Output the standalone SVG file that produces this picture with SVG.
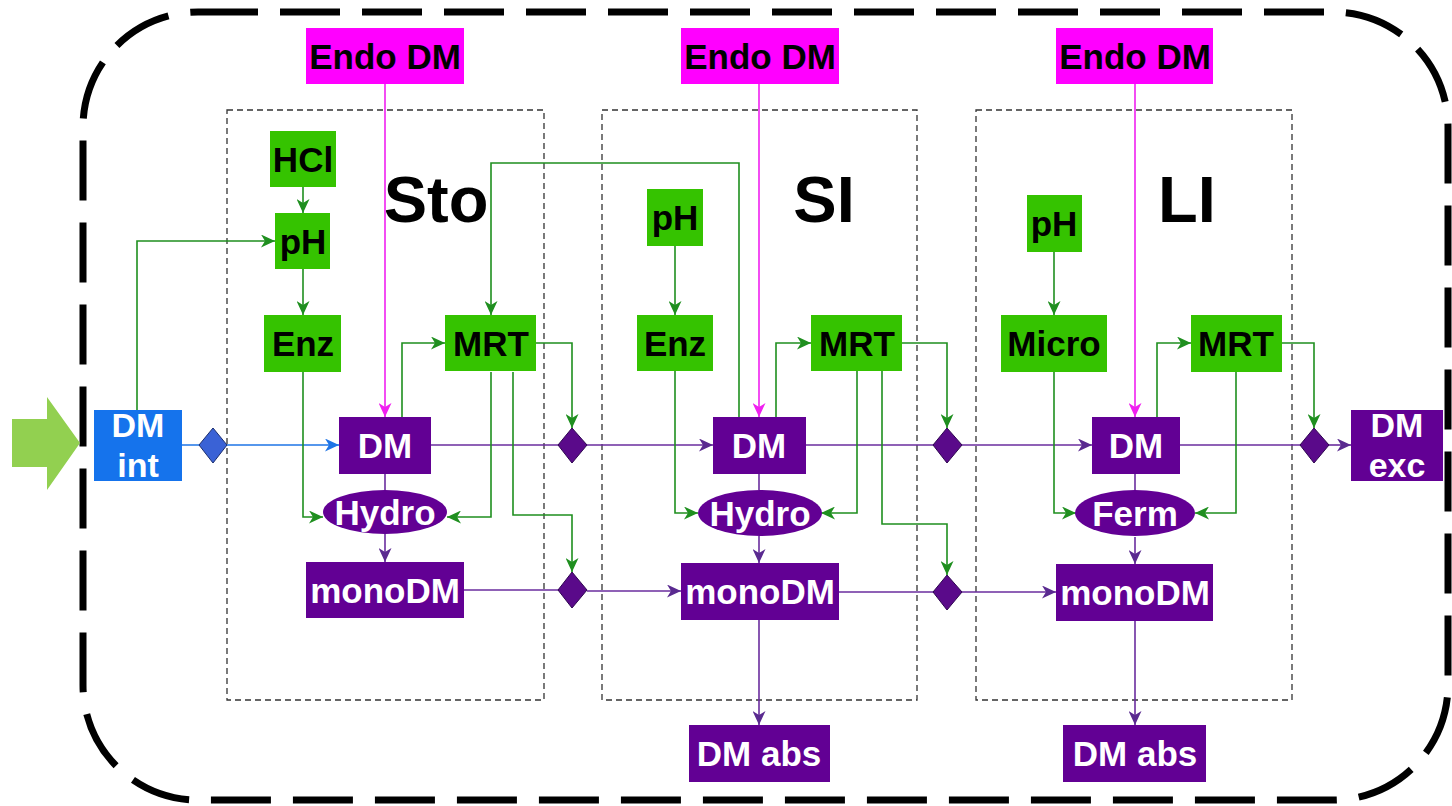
<svg xmlns="http://www.w3.org/2000/svg" width="1452" height="806" viewBox="0 0 1452 806">
<style>
  text{font-family:"Liberation Sans",Arial,sans-serif;font-weight:bold;text-anchor:middle;dominant-baseline:central}
  .g rect{fill:#35C300}
  .g text{fill:#000;font-size:35px}
  .p rect,.p ellipse{fill:#620094}
  .p text{fill:#fff;font-size:35px}
  .e rect{fill:#FF00FF}
  .e text{fill:#000;font-size:35px}
  .cg{fill:none;stroke:#1F8F1F;stroke-width:1.6}
  .cp{fill:none;stroke:#6A2C9E;stroke-width:1.6}
  .cm{fill:none;stroke:#F020F0;stroke-width:1.6}
  .cb{fill:none;stroke:#1E74E6;stroke-width:1.6}
  .zone{fill:none;stroke:#333;stroke-width:1.3;stroke-dasharray:6 4}
  .dia{fill:#5A0A8A;stroke:#2E0650;stroke-width:1}
</style>
<defs>
  <marker id="ag" markerUnits="userSpaceOnUse" markerWidth="15" markerHeight="13" refX="14" refY="6.5" orient="auto"><path d="M0,0 L14,6.5 L0,13 L4,6.5 z" fill="#1F8F1F"/></marker>
  <marker id="ap" markerUnits="userSpaceOnUse" markerWidth="15" markerHeight="13" refX="14" refY="6.5" orient="auto"><path d="M0,0 L14,6.5 L0,13 L4,6.5 z" fill="#5A2A90"/></marker>
  <marker id="am" markerUnits="userSpaceOnUse" markerWidth="15" markerHeight="13" refX="14" refY="6.5" orient="auto"><path d="M0,0 L14,6.5 L0,13 L4,6.5 z" fill="#F020F0"/></marker>
  <marker id="ab" markerUnits="userSpaceOnUse" markerWidth="15" markerHeight="13" refX="14" refY="6.5" orient="auto"><path d="M0,0 L14,6.5 L0,13 L4,6.5 z" fill="#1E74E6"/></marker>
</defs>
<rect width="1452" height="806" fill="#fff"/>
<rect x="83" y="12" width="1365" height="788" rx="115" ry="115" fill="none" stroke="#000" stroke-width="7" stroke-dasharray="60 22"/>
<polygon points="12,419 47,419 47,397 80,443 47,490 47,467 12,467" fill="#92D050"/>

<g id="zones">
  <rect class="zone" x="227" y="110" width="317" height="590"/>
  <rect class="zone" x="602" y="110" width="315" height="590"/>
  <rect class="zone" x="976" y="110" width="316" height="590"/>
</g>
<g id="labels" font-family="Liberation Sans, Arial, sans-serif" font-weight="bold" font-size="65" fill="#000">
  <text x="436" y="222" style="text-anchor:middle;dominant-baseline:alphabetic">Sto</text>
  <text x="824" y="222" style="text-anchor:middle;dominant-baseline:alphabetic">SI</text>
  <text x="1187" y="222" style="text-anchor:middle;dominant-baseline:alphabetic">LI</text>
</g>

<g id="connectors">
  <path class="cm" d="M385,84 V417" marker-end="url(#am)"/>
  <path class="cm" d="M759,84 V417" marker-end="url(#am)"/>
  <path class="cm" d="M1135,84 V417" marker-end="url(#am)"/>
  <path class="cb" d="M182,445 H339" marker-end="url(#ab)"/>
  <path class="cp" d="M431,445 H572"/>
  <path class="cp" d="M587,445 H713" marker-end="url(#ap)"/>
  <path class="cp" d="M806,445 H947"/>
  <path class="cp" d="M962,445 H1092" marker-end="url(#ap)"/>
  <path class="cp" d="M1180,445 H1314"/>
  <path class="cp" d="M1329,445 H1351" marker-end="url(#ap)"/>
  <path class="cp" d="M464,590 H572"/>
  <path class="cp" d="M587,591 H681" marker-end="url(#ap)"/>
  <path class="cp" d="M839,592 H947"/>
  <path class="cp" d="M962,592 H1056" marker-end="url(#ap)"/>
  <path class="cp" d="M385,474 V490"/>
  <path class="cp" d="M385,534 V562" marker-end="url(#ap)"/>
  <path class="cp" d="M759,474 V490"/>
  <path class="cp" d="M759,536 V563" marker-end="url(#ap)"/>
  <path class="cp" d="M759,620 V725" marker-end="url(#ap)"/>
  <path class="cp" d="M1135,474 V490"/>
  <path class="cp" d="M1135,537 V564" marker-end="url(#ap)"/>
  <path class="cp" d="M1135,621 V725" marker-end="url(#ap)"/>
  <path class="cg" d="M137,410 V241 H275" marker-end="url(#ag)"/>
  <path class="cg" d="M303,187 V213" marker-end="url(#ag)"/>
  <path class="cg" d="M303,269 V315" marker-end="url(#ag)"/>
  <path class="cg" d="M303,372 V517 H323" marker-end="url(#ag)"/>
  <path class="cg" d="M491,372 V517 H447" marker-end="url(#ag)"/>
  <path class="cg" d="M513,372 V515 H572 V572" marker-end="url(#ag)"/>
  <path class="cg" d="M536,343 H572 V428" marker-end="url(#ag)"/>
  <path class="cg" d="M402,417 V343 H445" marker-end="url(#ag)"/>
  <path class="cg" d="M739,417 V163 H491 V315" marker-end="url(#ag)"/>
  <path class="cg" d="M675,246 V315" marker-end="url(#ag)"/>
  <path class="cg" d="M675,371 V513 H698" marker-end="url(#ag)"/>
  <path class="cg" d="M776,417 V343 H811" marker-end="url(#ag)"/>
  <path class="cg" d="M857,371 V513 H821" marker-end="url(#ag)"/>
  <path class="cg" d="M882,371 V524 H947 V575" marker-end="url(#ag)"/>
  <path class="cg" d="M902,343 H947 V428" marker-end="url(#ag)"/>
  <path class="cg" d="M1054,252 V315" marker-end="url(#ag)"/>
  <path class="cg" d="M1054,372 V513 H1076" marker-end="url(#ag)"/>
  <path class="cg" d="M1157,417 V343 H1191" marker-end="url(#ag)"/>
  <path class="cg" d="M1236,372 V513 H1195" marker-end="url(#ag)"/>
  <path class="cg" d="M1282,343 H1314 V428" marker-end="url(#ag)"/>
</g>

<g id="diamonds">
  <polygon points="213,428 227,445 213,463 199,445" fill="#3A62D6" stroke="#1B2E6E" stroke-width="1"/>
  <polygon class="dia" points="572,428 587,445 572,463 558,445"/>
  <polygon class="dia" points="572,572 587,590 572,608 558,590"/>
  <polygon class="dia" points="947,428 962,445 947,463 933,445"/>
  <polygon class="dia" points="947,575 962,592 947,610 933,592"/>
  <polygon class="dia" points="1314,428 1329,445 1314,463 1300,445"/>
</g>

<g id="dm-int"><rect x="94" y="410" width="88" height="71" fill="#1573EC"/><text x="138" y="425" fill="#fff" font-size="34">DM</text><text x="138" y="465" fill="#fff" font-size="34">int</text></g>
<g id="dm-exc" class="p"><rect x="1351" y="410" width="92" height="71"/><text x="1397" y="425" style="font-size:34px">DM</text><text x="1397" y="465" style="font-size:34px">exc</text></g>

<g id="endo-sto" class="e"><rect x="306" y="28" width="158" height="56"/><text x="385" y="56">Endo DM</text></g>
<g id="endo-si" class="e"><rect x="681" y="28" width="158" height="56"/><text x="760" y="56">Endo DM</text></g>
<g id="endo-li" class="e"><rect x="1056" y="28" width="157" height="56"/><text x="1135" y="56">Endo DM</text></g>

<g id="hcl" class="g"><rect x="270" y="131" width="66" height="56"/><text x="303" y="159">HCl</text></g>
<g id="ph-sto" class="g"><rect x="275" y="213" width="55" height="56"/><text x="303" y="241">pH</text></g>
<g id="enz-sto" class="g"><rect x="264" y="315" width="77" height="57"/><text x="303" y="343">Enz</text></g>
<g id="mrt-sto" class="g"><rect x="445" y="315" width="91" height="56"/><text x="491" y="343">MRT</text></g>
<g id="dm-sto" class="p"><rect x="339" y="417" width="92" height="57"/><text x="385" y="445">DM</text></g>
<g id="hydro-sto" class="p"><ellipse cx="385" cy="512" rx="62" ry="22"/><text x="385" y="512">Hydro</text></g>
<g id="mono-sto" class="p"><rect x="306" y="562" width="158" height="56"/><text x="385" y="590">monoDM</text></g>

<g id="ph-si" class="g"><rect x="647" y="189" width="56" height="57"/><text x="675" y="217">pH</text></g>
<g id="enz-si" class="g"><rect x="637" y="315" width="76" height="56"/><text x="675" y="343">Enz</text></g>
<g id="mrt-si" class="g"><rect x="811" y="315" width="91" height="56"/><text x="857" y="343">MRT</text></g>
<g id="dm-si" class="p"><rect x="713" y="417" width="93" height="57"/><text x="759" y="445">DM</text></g>
<g id="hydro-si" class="p"><ellipse cx="760" cy="513" rx="62" ry="23"/><text x="760" y="513">Hydro</text></g>
<g id="mono-si" class="p"><rect x="681" y="563" width="158" height="57"/><text x="760" y="591">monoDM</text></g>
<g id="abs-si" class="p"><rect x="689" y="725" width="141" height="57"/><text x="759" y="753">DM abs</text></g>

<g id="ph-li" class="g"><rect x="1027" y="195" width="55" height="57"/><text x="1054" y="223">pH</text></g>
<g id="micro" class="g"><rect x="1001" y="315" width="106" height="57"/><text x="1054" y="343">Micro</text></g>
<g id="mrt-li" class="g"><rect x="1191" y="315" width="91" height="57"/><text x="1236" y="343">MRT</text></g>
<g id="dm-li" class="p"><rect x="1092" y="417" width="88" height="57"/><text x="1136" y="445">DM</text></g>
<g id="ferm" class="p"><ellipse cx="1135" cy="513" rx="60" ry="23"/><text x="1135" y="513">Ferm</text></g>
<g id="mono-li" class="p"><rect x="1056" y="564" width="157" height="57"/><text x="1135" y="592">monoDM</text></g>
<g id="abs-li" class="p"><rect x="1063" y="725" width="143" height="57"/><text x="1135" y="753">DM abs</text></g>
</svg>
